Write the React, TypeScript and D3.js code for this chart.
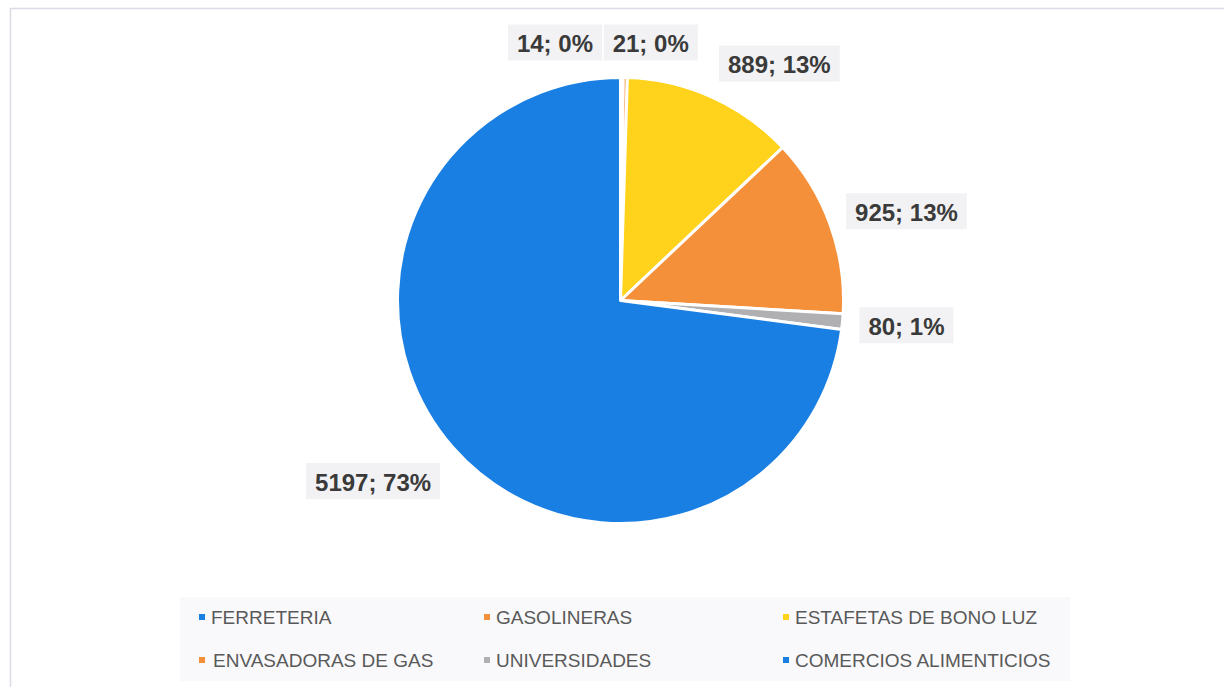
import { useEffect, useRef } from "react";
import * as d3 from "d3";

const categories = [
  "FERRETERIA",
  "GASOLINERAS",
  "ESTAFETAS DE BONO LUZ",
  "ENVASADORAS DE GAS",
  "UNIVERSIDADES",
  "COMERCIOS ALIMENTICIOS",
];
const values = [14, 21, 889, 925, 80, 5197];
const percentLabels = ["0%", "0%", "13%", "13%", "1%", "73%"];
const colors = ["#1a7fe2", "#f39039", "#ffd21c", "#f39039", "#b0b0b2", "#1a7fe2"];

export default function App() {
  const svgRef = useRef<SVGSVGElement>(null);

  useEffect(() => {
    const width = 1224;
    const height = 687;
    const cx = 620.5;
    const cy = 300.5;
    const r = 223;

    const svg = d3.select(svgRef.current);
    svg.selectAll("*").remove();

    svg.append("rect").attr("width", width).attr("height", height).attr("fill", "#ffffff");
    svg
      .append("path")
      .attr("d", `M10.5,${height} V8.5 H${width}`)
      .attr("fill", "none")
      .attr("stroke", "#dadce6")
      .attr("stroke-width", 1.5);

    const data = categories.map((c, i) => ({ name: c, value: values[i], i }));

    const pie = d3
      .pie<any>()
      .value((d) => d.value)
      .sort(null);
    const arcs = pie(data);
    const arc = d3.arc<any>().innerRadius(0).outerRadius(r);

    const g = svg.append("g").attr("transform", `translate(${cx},${cy})`);
    g.selectAll("path")
      .data(arcs)
      .enter()
      .append("path")
      .attr("d", arc)
      .attr("fill", (d) => colors[d.data.i])
      .attr("stroke", "#ffffff")
      .attr("stroke-width", 3)
      .attr("stroke-linejoin", "round");

    // data labels, placed outside the end of each slice
    const labelG = svg.append("g");
    const boxH = 36;
    const boxes: { x: number; w: number }[] = [];
    arcs.forEach((d) => {
      const i = d.data.i;
      const mid = (d.startAngle + d.endAngle) / 2;
      const s = Math.sin(mid);
      const c = Math.cos(mid);
      const px = cx + (r + 17) * s;
      const py = cy - (r + 17) * c;
      const lg = labelG.append("g");
      const rect = lg.append("rect").attr("fill", "#f2f2f4");
      const t = lg
        .append("text")
        .text(`${values[i]}; ${percentLabels[i]}`)
        .attr("font-family", "Liberation Sans, Arial, sans-serif")
        .attr("font-weight", "bold")
        .attr("font-size", 24)
        .attr("fill", "#3a3a3a")
        .attr("text-anchor", "middle")
        .attr("dominant-baseline", "central");
      const tw = (t.node() as SVGTextElement).getComputedTextLength();
      const bw = tw + 18;
      let left = s >= 0 ? px : px - bw;
      if (i === 1) left = px - 22; // pushed left next to the tiny slice
      if (i === 0) left = px - bw - 20; // sits left of its neighbour
      boxes.push({ x: left, w: bw });
      const bx = left + bw / 2;
      const by = py - (boxH / 2) * Math.max(-1, Math.min(1, c * 1.2)) + (c < -0.5 ? 8 : 0);
      rect
        .attr("x", bx - bw / 2)
        .attr("y", by - boxH / 2)
        .attr("width", bw)
        .attr("height", boxH);
      t.attr("x", bx).attr("y", by + 1);
    });

    // legend
    const legend = svg.append("g");
    legend
      .append("rect")
      .attr("x", 180)
      .attr("y", 597)
      .attr("width", 890)
      .attr("height", 84)
      .attr("fill", "#f9f9fb");
    const colX = [199, 484, 783];
    const rowY = [617, 660];
    categories.forEach((name, i) => {
      const x = colX[i % 3];
      const y = rowY[Math.floor(i / 3)];
      legend
        .append("rect")
        .attr("x", x)
        .attr("y", y - 3)
        .attr("width", 6)
        .attr("height", 6)
        .attr("fill", colors[i]);
      legend
        .append("text")
        .attr("x", x + (i === 3 ? 14 : 12))
        .attr("y", y)
        .attr("dominant-baseline", "central")
        .attr("font-family", "Liberation Sans, Arial, sans-serif")
        .attr("font-size", 19)
        .attr("fill", "#595959")
        .text(name);
    });
  }, []);

  return (
    <svg
      ref={svgRef}
      width={1224}
      height={687}
      style={{ position: "absolute", left: 0, top: 0, display: "block" }}
    />
  );
}
